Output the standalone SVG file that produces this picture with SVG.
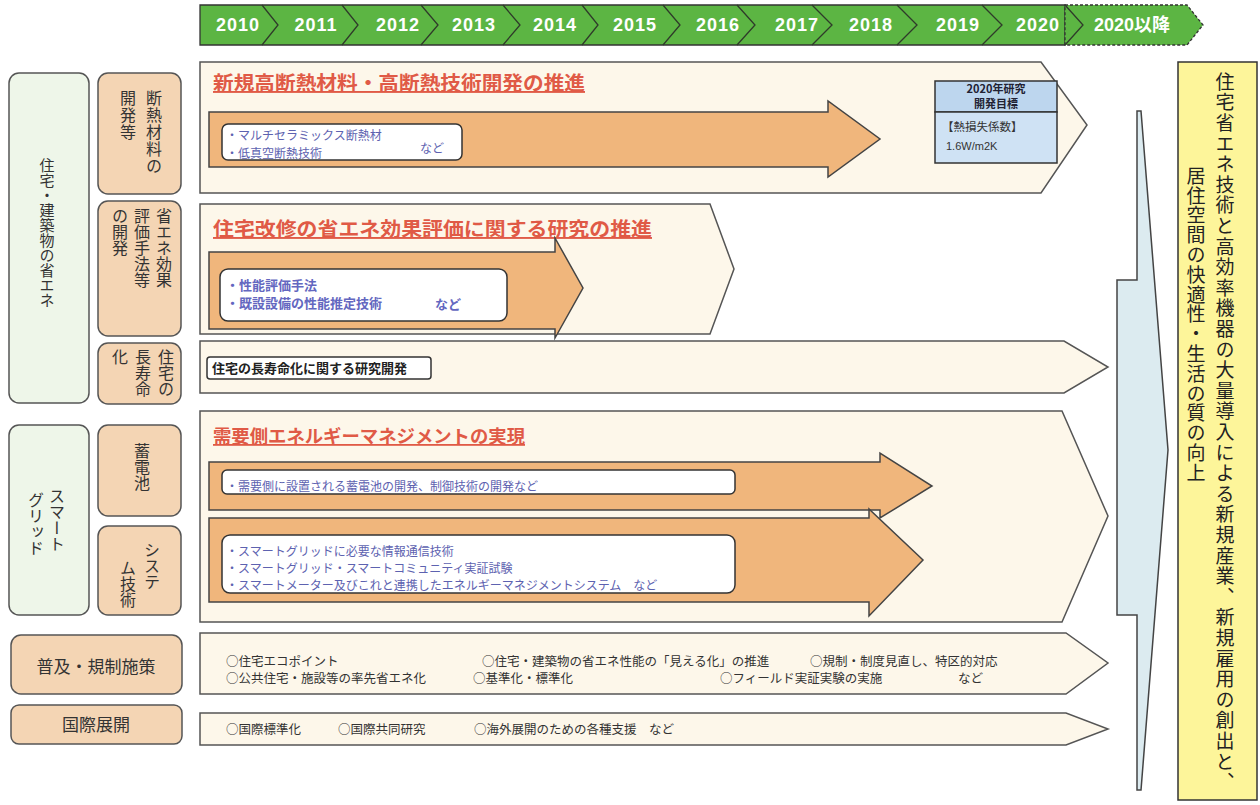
<svg xmlns="http://www.w3.org/2000/svg" width="1260" height="805" viewBox="0 0 1260 805">
<style>
text{font-family:"Noto Sans CJK JP","Liberation Sans",sans-serif;}
.yr{font-family:"Liberation Sans","Noto Sans CJK JP",sans-serif;font-weight:bold;font-size:18px;fill:#fff;text-anchor:middle;letter-spacing:1px;}
.sep{fill:none;stroke:#2f3a2a;stroke-width:1.3;}
.grn{fill:#eef6e9;stroke:#555;stroke-width:1.5;}
.pch{fill:#f4d5b4;stroke:#555;stroke-width:1.5;}
.pnl{fill:#fdf7ea;stroke:#555;stroke-width:1.5;}
.org{fill:#f0b67c;stroke:#444;stroke-width:1.5;}
.wbx{fill:#fff;stroke:#333;stroke-width:1.5;}
.vt{writing-mode:vertical-rl;font-size:16px;fill:#333;}
.lbl{font-size:16px;fill:#333;text-anchor:middle;}
.ttl{font-size:19px;font-weight:bold;fill:#e05a46;text-decoration:underline;}
.itm{font-size:12px;fill:#5d62b0;}
.itb{font-size:13px;font-weight:bold;fill:#6367c0;}
.blk{font-size:12.5px;fill:#333;}
</style>

<g id="timeline">
  <polygon points="200,5 1065,5 1065,45 200,45" fill="#5cb543" stroke="#333" stroke-width="1.3"/>
  <polygon points="1065,5 1187,5 1203,25 1187,45 1065,45" fill="#5cb543" stroke="#333" stroke-width="1.3" stroke-dasharray="3,2"/>
  <polyline class="sep" points="262,5 278,25 262,45"/>
  <polyline class="sep" points="342,5 358,25 342,45"/>
  <polyline class="sep" points="421,5 438,25 421,45"/>
  <polyline class="sep" points="503,5 520,25 503,45"/>
  <polyline class="sep" points="582,5 598,25 582,45"/>
  <polyline class="sep" points="663,5 680,25 663,45"/>
  <polyline class="sep" points="737,5 755,25 737,45"/>
  <polyline class="sep" points="812,5 832,25 812,45"/>
  <polyline class="sep" points="897,5 917,25 897,45"/>
  <polyline class="sep" points="982,5 1002,25 982,45"/>
  <polyline class="sep" points="1065,5 1083,25 1065,45"/>
  <text class="yr" x="238" y="31">2010</text>
  <text class="yr" x="316" y="31">2011</text>
  <text class="yr" x="398" y="31">2012</text>
  <text class="yr" x="474" y="31">2013</text>
  <text class="yr" x="555" y="31">2014</text>
  <text class="yr" x="635" y="31">2015</text>
  <text class="yr" x="718" y="31">2016</text>
  <text class="yr" x="797" y="31">2017</text>
  <text class="yr" x="871" y="31">2018</text>
  <text class="yr" x="958" y="31">2019</text>
  <text class="yr" x="1038" y="31">2020</text>
  <text class="yr" x="1132" y="31" style="letter-spacing:0">2020以降</text>
</g>

<g id="cat-housing">
  <rect class="grn" x="9" y="73" width="80" height="330" rx="10"/>
  <text class="vt" x="47" y="158" style="font-size:15px">住宅・建築物の省エネ</text>
</g>
<g id="sub-insulation">
  <rect class="pch" x="98" y="73" width="83" height="121" rx="10"/>
  <text class="vt" x="154" y="90" style="letter-spacing:1px">断熱材料の</text>
  <text class="vt" x="128" y="90" style="letter-spacing:1px">開発等</text>
</g>
<g id="sub-evaluation">
  <rect class="pch" x="98" y="201" width="83" height="135" rx="10"/>
  <text class="vt" x="164" y="208">省エネ効果</text>
  <text class="vt" x="142" y="208">評価手法等</text>
  <text class="vt" x="120" y="208">の開発</text>
</g>
<g id="sub-longlife">
  <rect class="pch" x="98" y="343" width="83" height="61" rx="10"/>
  <text class="vt" x="166" y="349">住宅の</text>
  <text class="vt" x="143" y="349">長寿命</text>
  <text class="vt" x="120" y="349">化</text>
</g>
<g id="cat-smartgrid">
  <rect class="grn" x="9" y="425" width="80" height="190" rx="10"/>
  <text class="vt" x="57" y="488">スマート</text>
  <text class="vt" x="36" y="492">グリッド</text>
</g>
<g id="sub-battery">
  <rect class="pch" x="98" y="425" width="83" height="91" rx="10"/>
  <text class="vt" x="142" y="443">蓄電池</text>
</g>
<g id="sub-system">
  <rect class="pch" x="98" y="526" width="83" height="89" rx="10"/>
  <text class="vt" x="152" y="542">システ</text>
  <text class="vt" x="128" y="560">ム技術</text>
</g>
<g id="cat-policy">
  <rect class="pch" x="11" y="635" width="171" height="59" rx="10"/>
  <text class="lbl" x="96" y="673" style="font-size:17px">普及・規制施策</text>
</g>
<g id="cat-intl">
  <rect class="pch" x="11" y="705" width="171" height="39" rx="8"/>
  <text class="lbl" x="96" y="731" style="font-size:17px">国際展開</text>
</g>

<g id="panel-insulation">
  <polygon class="pnl" points="200,62 1041,62 1087,125 1041,193 200,193"/>
  <text class="ttl" x="213" y="90" textLength="372" lengthAdjust="spacingAndGlyphs">新規高断熱材料・高断熱技術開発の推進</text>
  <polygon class="org" points="209,112 828,112 828,101 880,139 828,177 828,167 209,167"/>
  <rect class="wbx" x="222" y="124" width="240" height="36" rx="6"/>
  <text class="itm" x="226" y="140">・マルチセラミックス断熱材</text>
  <text class="itm" x="226" y="158">・低真空断熱技術</text>
  <text class="itm" x="420" y="153">など</text>
</g>
<g id="target-box">
  <rect x="935" y="81" width="122" height="31" fill="#bdd6ee" stroke="#333" stroke-width="1.5"/>
  <rect x="935" y="112" width="122" height="51" fill="#cfe2f4" stroke="#333" stroke-width="1.5"/>
  <text x="996" y="93" style="font-size:11px;font-weight:bold;fill:#223;text-anchor:middle">2020年研究</text>
  <text x="996" y="108" style="font-size:11px;font-weight:bold;fill:#223;text-anchor:middle">開発目標</text>
  <text x="942" y="131" style="font-size:11.5px;fill:#333">【熱損失係数】</text>
  <text x="946" y="150" style="font-size:11px;fill:#333;font-family:'Liberation Sans',sans-serif">1.6W/m2K</text>
</g>

<g id="panel-evaluation">
  <polygon class="pnl" points="200,204 710,204 734,269 710,334 200,334"/>
  <text class="ttl" x="213" y="236" textLength="439" lengthAdjust="spacingAndGlyphs">住宅改修の省エネ効果評価に関する研究の推進</text>
  <polygon class="org" points="209,252 555,252 555,238 583,288 555,338 555,329 209,329"/>
  <rect class="wbx" x="220" y="269" width="287" height="52" rx="8"/>
  <text class="itb" x="226" y="290">・性能評価手法</text>
  <text class="itb" x="226" y="308">・既設設備の性能推定技術</text>
  <text class="itb" x="435" y="309">など</text>
</g>

<g id="panel-longlife">
  <polygon class="pnl" points="200,341 1064,341 1108,367 1064,393 200,393"/>
  <rect x="207" y="357" width="224" height="22" rx="3" fill="#fff" stroke="#333" stroke-width="1.5"/>
  <text x="212" y="373" style="font-size:13px;font-weight:bold;fill:#222">住宅の長寿命化に関する研究開発</text>
</g>

<g id="panel-energy">
  <polygon class="pnl" points="200,411 1062,411 1108,516 1062,622 200,622"/>
  <text class="ttl" x="213" y="443" textLength="312" lengthAdjust="spacingAndGlyphs" style="font-size:18px">需要側エネルギーマネジメントの実現</text>
  <polygon class="org" points="209,462 880,462 880,453 932,486 880,518 880,510 209,510"/>
  <rect class="wbx" x="222" y="470" width="513" height="24" rx="5"/>
  <text class="itm" x="226" y="491">・需要側に設置される蓄電池の開発、制御技術の開発など</text>
  <polygon class="org" points="209,518 869,518 869,509 923,560 869,616 869,602 209,602"/>
  <rect class="wbx" x="222" y="535" width="513" height="58" rx="8"/>
  <text class="itm" x="226" y="556">・スマートグリッドに必要な情報通信技術</text>
  <text class="itm" x="226" y="573">・スマートグリッド・スマートコミュニティ実証試験</text>
  <text class="itm" x="226" y="590">・スマートメーター及びこれと連携したエネルギーマネジメントシステム　など</text>
</g>

<g id="panel-policy">
  <polygon class="pnl" points="200,633 1066,633 1108,663 1066,694 200,694"/>
  <text class="blk" x="226" y="666">○住宅エコポイント</text>
  <text class="blk" x="482" y="666">○住宅・建築物の省エネ性能の「見える化」の推進</text>
  <text class="blk" x="810" y="666">○規制・制度見直し、特区的対応</text>
  <text class="blk" x="226" y="683">○公共住宅・施設等の率先省エネ化</text>
  <text class="blk" x="473" y="683">○基準化・標準化</text>
  <text class="blk" x="720" y="683">○フィールド実証実験の実施</text>
  <text class="blk" x="958" y="683">など</text>
</g>

<g id="panel-intl">
  <polygon class="pnl" points="200,713 1066,713 1108,729 1066,745 200,745"/>
  <text class="blk" x="226" y="734">○国際標準化</text>
  <text class="blk" x="338" y="734">○国際共同研究</text>
  <text class="blk" x="474" y="734">○海外展開のための各種支援　など</text>
</g>

<g id="connectors">
  <polygon points="1137,111 1141,111 1168,450 1141,790 1137,790 1137,615 1117,615 1117,280 1137,280" fill="#dcebf0" stroke="#444" stroke-width="1.5"/>
</g>

<g id="outcome">
  <rect x="1178" y="62" width="79" height="738" fill="#fdf59a" stroke="#333" stroke-width="1.5"/>
  <text class="vt" x="1225" y="72" style="font-size:19px;letter-spacing:1.6px;fill:#222">住宅省エネ技術と高効率機器の大量導入による新規産業、新規雇用の創出と、</text>
  <text class="vt" x="1196" y="166" style="font-size:19px;letter-spacing:0.8px;fill:#222">居住空間の快適性・生活の質の向上</text>
</g>
</svg>
